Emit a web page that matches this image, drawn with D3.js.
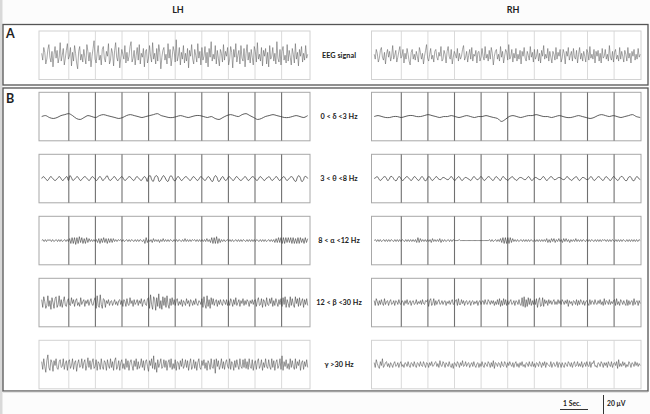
<!DOCTYPE html>
<html><head><meta charset="utf-8">
<script src="https://cdn.jsdelivr.net/npm/d3@7"></script>
<style>
html,body{margin:0;padding:0;background:#fcfcfc;}
svg{display:block;}
text{font-family:Lato,"Open Sans","DejaVu Sans",sans-serif;font-weight:bold;fill:#222;}
</style></head>
<body>
<svg id="c" width="650" height="414"></svg>
<script>
// ---------- DATA ----------
const hemispheres = ["LH", "RH"];
const panelLetters = ["A", "B"];
const bandLabels = ["EEG signal", "0 < δ <3 Hz", "3 < θ <8 Hz", "8 < α <12 Hz", "12 < β <30 Hz", "γ >30 Hz"];
const secondTicks = [1,2,3,4,5,6,7,8,9];
const durationSec = 10;
const scaleBarLabels = ["1 Sec.", "20 μV"];

const eegLH = [2,-5,8,3,-9,-4,6,11,-2,-7,4,-12,1,9,-3,5,-8,-2,13,-6,
0,7,-10,-3,5,12,-4,-1,8,-11,3,-6,10,2,-8,-14,4,9,-5,1,
-7,6,-2,-9,11,4,-6,3,-12,-1,7,15,-4,-8,2,10,-5,0,-10,6,
9,-3,-7,4,-1,12,-9,-5,7,2,-11,5,13,-2,-6,8,-13,-3,6,1,
-4,10,-8,3,-6,-1,9,14,-7,-3,5,-10,0,8,-5,11,-9,2,-2,7,
-12,4,6,-8,-3,10,-1,-7,13,-4,2,-9,7,-6,11,3,-14,-2,5,8,
-5,1,-9,12,-3,6,-11,-2,9,4,-7,16,-6,-1,8,-10,3,-4,10,-8,
2,-6,7,-13,5,-1,11,-4,-9,6,0,-7,12,-3,4,-10,8,-5,-1,9,
-8,3,-12,7,-2,14,-6,1,-4,10,-9,5,-3,-11,6,2,-7,11,-5,4,
-1,8,-10,-4,9,3,-13,6,-2,12,-7,0,5,-9,10,-3,-6,7,-12,2,
11,-5,3,-8,6,-2,-10,9,4,-7,13,-4,1,-6,8,-11,5,-1,7,-9,
3,-12,10,-4,-1,8,-6,2,-9,14,-3,-7,6,-10,4,9,-5,0,-8,11,
-6,5,-2,-10,7,1,-8,12,-4,3,-11,6,-1,9,-7,2,-5,10,-3,1];
const eegRH = [1,-4,6,2,-7,-3,5,8,-2,-5,3,-9,1,6,-2,4,-6,-1,10,-4,
0,5,-7,-2,4,9,-3,-1,6,-8,2,-4,7,1,-6,-10,3,6,-4,1,
-5,4,-1,-7,8,3,-4,2,-9,-1,5,11,-3,-6,1,7,-4,0,-7,4,
6,-2,-5,3,-1,9,-6,-4,5,1,-8,4,9,-1,-4,6,-9,-2,4,1,
-3,7,-6,2,-4,-1,6,10,-5,-2,4,-7,0,6,-4,8,-6,1,-1,5,
-8,3,4,-6,-2,7,-1,-5,9,-3,1,-6,5,-4,8,2,-10,-1,4,6,
-4,1,-6,9,-2,4,-8,-1,6,3,-5,11,-4,-1,6,-7,2,-3,7,-6,
1,-4,5,-9,4,-1,8,-3,-6,4,0,-5,9,-2,3,-7,6,-4,-1,6,
-6,2,-8,5,-1,10,-4,1,-3,7,-6,4,-2,-8,4,1,-5,8,-4,3,
-1,6,-7,-3,6,2,-9,4,-1,8,-5,0,4,-6,7,-2,-4,5,-8,1,
8,-4,2,-6,4,-1,-7,6,3,-5,9,-3,1,-4,6,-8,4,-1,5,-6,
2,-8,7,-3,-1,6,-4,1,-6,10,-2,-5,4,-7,3,6,-4,0,-6,8,
-4,4,-1,-7,5,1,-6,8,-3,2,-8,4,-1,6,-5,1,-4,7,-2,1];

const deltaLH = [0,1,-1,-2,-1,1,2,3,1,-2,-3,-1,1,0,-1,1,2,1,0,-1,-2,-1,1,2,1,0,-1,0,1,2,3,1,0,-1,-1,0,1,0,-1,0,1,1,0,-1,0,-2,-3,-1,1,2,1,0,2,3,1,-1,-3,-2,0,1,2,1,0,-1,-1,0,1,0,-1,1];
const deltaRH = [0,1,0,-1,-1,0,0,-1,0,1,1,0,0,1,2,1,0,-1,0,0,1,0,-1,0,1,0,-1,0,0,1,0,-1,-2,-5,-3,0,1,0,-1,0,1,1,2,1,0,0,-1,0,1,0,-1,-1,0,1,0,-1,-2,-1,1,2,1,0,1,0,-1,0,1,2,0,-1];

const thetaLH = [0,2,1,-1,-2,0,2,1,-1,-2,-1,1,2,0,-2,-1,1,2,
-2,3,1,-2,-1,1,2,0,-2,-1,1,2,1,-1,-2,0,2,1,
-1,-2,0,2,1,-2,-1,1,3,0,-2,-1,1,2,0,-2,-1,1,
2,0,-2,-1,1,2,1,-1,-2,0,2,1,-1,-2,0,2,1,-3,
2,3,-1,-3,1,3,2,-3,-2,1,3,1,-2,-3,1,3,1,-2,
-2,1,2,0,-2,-1,1,2,1,-1,-2,0,2,1,-1,-2,0,2,
1,-1,-2,0,2,1,-2,-3,1,3,1,-3,-2,1,2,-1,-2,0,
2,1,-1,-2,0,2,1,-1,-2,-1,1,2,0,-2,-1,1,2,1,
-1,-2,0,2,1,-1,-2,0,1,2,0,-2,-1,1,2,0,-2,-1,
1,2,0,-2,-1,1,2,1,-2,-3,1,3,1,-3,-2,2,2,0];
const thetaRH = [0,1,2,0,-2,-1,1,2,1,-2,-1,2,2,0,-2,-2,1,2,
0,-2,-1,1,2,1,-1,-2,0,2,1,-1,-2,0,2,1,-2,-2,
1,2,0,-2,-1,1,2,0,-1,-1,1,1,0,-1,-1,1,2,0,
-2,-1,1,2,0,-2,-1,1,1,0,-1,-2,0,2,1,-1,-1,1,
2,0,-2,-1,1,2,1,-1,-2,0,2,1,-1,-2,1,2,0,-1,
-2,0,1,2,0,-1,-2,0,1,1,0,-1,-1,1,2,0,-2,-1,
1,1,0,-1,-1,1,2,0,-2,-1,1,2,1,-1,-1,0,1,1,
0,-1,-1,1,2,0,-1,-2,0,1,2,0,-2,-1,1,1,0,-1,
-1,1,2,0,-2,-1,1,2,1,-1,-2,0,2,1,-1,-2,0,2,
1,-1,-2,0,2,2,0,-2,-2,1,2,1,-2,-2,1,2,0,-1];

const alphaLH = [0,1,-1,1,-1,1,0,1,-1,1,-1,0,1,-1,1,-1,1,-1,0,1,-1,1,
-1,2,-3,3,-3,3,-4,3,-3,4,-2,3,-3,2,-3,3,-2,2,-1,1,-1,1,
-1,1,-2,2,-3,2,-2,3,-2,2,-3,2,-2,2,-2,2,-1,1,-1,1,0,1,
-1,1,-1,0,1,-1,1,-1,1,0,-1,1,-1,1,-1,1,0,-1,1,-3,3,-2,
1,-1,1,-2,2,-1,1,-1,1,-2,1,-1,2,-1,1,-1,1,-1,1,0,-1,1,
-1,1,-1,1,0,-1,1,-1,2,-1,1,-1,1,-1,1,0,1,-1,1,-1,1,-1,
1,-1,1,-1,2,-1,1,-2,3,-3,3,-3,4,-3,2,-2,1,-1,1,-1,0,1,
-1,1,-1,1,-1,0,1,-1,1,-1,1,-1,1,0,-1,1,-1,1,-1,1,-1,1,
-1,1,0,-1,1,-1,1,-1,1,-1,0,1,-1,1,-1,1,-2,2,-2,3,-2,3,
-3,3,-3,3,-2,3,-2,3,-3,3,-3,2,-3,3,-3,3,-2,2,-3,3,-2,2];
const alphaRH = [0,1,-1,1,-1,1,-1,0,1,-1,1,-1,1,-1,1,0,-1,1,-1,1,-1,1,
-1,1,0,-1,1,-1,1,-1,1,-1,1,-1,1,-2,3,-2,2,-1,1,-1,1,-1,
1,-1,1,-2,2,-1,1,-1,1,-1,2,-2,1,-1,1,-1,0,1,-1,1,-1,1,
0,0,0,0,1,0,0,0,0,0,0,0,0,0,0,0,0,0,0,0,0,0,
0,0,0,0,0,0,0,1,-1,1,-1,0,1,-1,1,-1,2,-2,3,-3,3,-3,
3,-3,3,-2,2,-1,1,-1,1,-1,0,1,-1,1,-1,1,-1,1,-1,1,0,-1,
1,-1,1,-1,1,-1,1,-1,1,-1,2,-2,1,-2,2,-1,2,-2,1,-1,2,-1,
1,-2,2,-1,2,-1,1,-2,1,-1,1,-1,2,-1,1,-1,1,-1,1,0,-1,1,
-1,1,-1,1,0,-1,1,-1,1,-1,1,-1,1,0,1,-1,1,-1,1,-1,1,0,
-1,1,-1,1,-1,1,-1,1,0,-1,1,-1,1,-1,1,-1,1,-1,1,-1,1,0];

const betaLH = [3,-5,6,1,-6,-3,7,-4,2,-7,5,0,-6,4,6,-5,-2,7,-4,3,-5,1,6,-3,-4,2,
4,-2,-3,5,-1,3,-4,2,4,-3,0,-4,5,-2,1,3,-4,2,-1,3,-3,1,4,-2,-3,2,
5,-6,7,-3,-5,8,-2,-6,4,3,-5,2,-1,3,-3,1,2,-3,0,3,-2,1,-3,2,3,-2,
2,-4,3,1,-4,4,-2,-3,5,-1,2,-4,3,-2,0,3,-3,2,-1,4,-4,1,3,-2,-3,4,
5,-6,8,-2,-7,6,3,-8,5,-4,9,-6,2,-7,6,-3,5,-5,7,-2,-6,4,-3,5,-2,3,
-3,2,4,-3,1,-2,3,-4,2,0,-3,4,-1,2,-4,3,1,-3,2,-2,4,-1,-3,2,1,-2,
4,-5,6,-2,-6,7,-4,3,-6,5,-2,4,-3,1,3,-4,2,-2,3,-1,-3,3,1,-2,3,-3,
2,-3,4,1,-4,3,-2,5,-3,0,3,-4,2,-1,4,-3,2,-2,3,1,-4,2,-1,3,-2,2,
3,-4,2,5,-3,-2,4,-5,3,1,-4,5,-2,-3,4,-1,5,-4,2,-3,4,0,-4,3,-2,4,
-4,5,-2,6,-5,3,-1,-5,6,-3,4,-2,-5,6,-1,4,-4,5,-3,1,4,-5,3,-2,4,-3];
const betaRH = [2,-3,4,1,-3,2,-2,3,-1,-3,4,-2,1,2,-3,1,3,-2,-1,2,-3,2,1,-2,3,-1,
-2,2,1,-3,2,-1,3,-2,0,2,-3,1,2,-2,-1,3,-2,1,-1,2,-2,3,-1,-2,2,1,
3,-4,2,4,-3,-1,4,-3,2,-2,1,3,-2,-1,2,-2,1,2,-3,1,-1,2,-2,1,3,-2,
-1,2,3,-3,4,-2,-2,3,-1,2,-3,1,2,-2,0,2,-3,1,2,-2,1,-1,2,-3,1,2,
-2,1,2,-2,3,-1,-2,3,1,-2,2,-1,2,-3,1,-2,3,-2,4,-4,2,-3,4,-2,3,-3,
2,-2,1,3,-2,-1,2,-3,2,1,-2,3,-2,-3,5,-4,6,-5,3,-4,5,-2,4,-3,2,-2,
3,-2,4,-5,2,5,-4,-3,5,-4,3,-1,2,-3,3,-1,2,-2,1,3,-2,1,-2,3,-1,2,
-2,3,1,-2,2,-1,3,-4,2,-1,1,-3,2,1,-2,3,-3,2,-2,3,1,-2,2,-3,1,2,
-1,-3,3,-2,2,1,-2,3,-1,-2,2,-1,3,-2,1,-3,4,-2,2,1,-2,3,-2,1,-1,2,
3,-3,4,-2,1,-3,3,1,-2,2,-1,-3,3,-3,2,-2,1,2,-3,4,-2,1,2,-3,2,-1];

const gammaLH = [3,-5,6,-2,-8,4,10,-3,-6,5,2,-7,4,-1,6,-4,-5,3,5,-3,
-2,6,-5,1,4,-6,3,5,-4,-1,6,-5,2,4,-7,1,5,-3,-2,6,
-4,2,5,-6,-1,7,-3,4,-5,2,6,-4,-2,5,-6,3,1,-5,6,-2,
-5,4,2,-6,5,-1,-4,6,-3,3,-6,4,7,-5,-2,4,-6,2,5,-4,
1,-5,6,-3,4,-6,2,5,-1,-6,4,-2,6,-5,3,-4,-1,6,-3,4,
-6,3,5,-2,-7,4,-1,6,-4,9,-5,2,-8,5,-3,1,6,-4,-2,5,
-3,4,-6,2,5,-3,6,-5,1,-4,5,-6,3,2,-5,4,-2,6,-4,-1,
5,-3,4,-6,1,6,-5,-2,5,-4,3,-6,2,6,-3,-5,4,-1,5,-4,
2,-6,4,1,-5,6,-3,-4,5,-9,6,-2,4,-5,-1,6,-4,3,-5,2,
5,-2,-4,6,-5,3,1,-6,4,-3,5,-1,-5,6,-2,-4,5,-3,6,-4,
3,-5,6,-2,-4,5,-6,1,4,-5,3,6,-4,-1,5,-6,2,-3,6,-2,
-4,5,-2,-5,6,-3,4,-6,2,5,-4,-1,6,-5,9,-6,3,-2,5,-4,
1,-5,6,-3,4,-2,-5,6,-4,3,-1,5,-6,2,4,-5,3,-2,5,-3];
const gammaRH = [2,-3,5,1,-2,-4,3,-1,6,-3,-1,2,3,-2,1,-3,2,0,-3,1,
3,-2,-1,2,-3,1,3,-2,0,-3,2,1,-2,3,-1,-3,2,1,-2,3,
-1,-3,2,1,-2,3,-1,-2,3,0,-3,2,1,-3,2,-1,3,-2,-1,2,
3,-2,1,-3,4,-1,-2,3,1,-3,2,0,-2,3,-1,-3,1,-4,2,1,
-2,3,1,-3,2,-1,4,-2,-1,3,-2,1,2,-3,0,2,-2,3,-1,-3,
1,2,-3,1,-2,3,-1,-3,2,0,-2,3,1,-3,2,-2,4,-4,2,1,
-2,2,1,-3,3,-1,-2,3,1,-3,2,-1,3,0,-2,2,-3,1,3,-2,
1,-3,2,-1,3,-2,0,-3,2,1,-2,3,-1,-2,3,-2,1,-3,2,1,
-2,3,1,-3,2,-1,3,-3,2,0,-1,-2,3,-3,1,2,-2,-1,3,-3,
2,1,-3,2,-1,-3,2,0,-2,3,1,-2,2,-3,1,3,-2,-1,3,-2,
1,-2,3,-3,0,2,-2,3,-1,-2,3,-3,2,1,4,-2,-1,-3,2,1,
-2,3,1,-3,2,-1,2,-3,3,0,-2,3,-3,1,2,-1,3,-4,5,-2,
1,-2,3,-1,2,-3,0,-2,3,1,-3,2,1,-2,3,-1,2,-2,1,-1];

// ---------- LAYOUT ----------
const svg = d3.select("#c");
const rows = [
  {label: bandLabels[0], lh: eegLH,   rh: eegRH,   y: 31,    light: true,  curve: d3.curveLinear,     col:"#606060", sw:0.55},
  {label: bandLabels[1], lh: deltaLH, rh: deltaRH, y: 92.3,  light: false, curve: d3.curveCatmullRom, col:"#333", sw:0.8},
  {label: bandLabels[2], lh: thetaLH, rh: thetaRH, y: 154.3, light: false, curve: d3.curveCatmullRom, col:"#333", sw:0.75},
  {label: bandLabels[3], lh: alphaLH, rh: alphaRH, y: 216.3, light: false, curve: d3.curveLinear,     col:"#3a3a3a", sw:0.6},
  {label: bandLabels[4], lh: betaLH,  rh: betaRH,  y: 278.3, light: false, curve: d3.curveLinear,     col:"#3a3a3a", sw:0.55},
  {label: bandLabels[5], lh: gammaLH, rh: gammaRH, y: 340.3, light: true,  curve: d3.curveLinear,     col:"#4a4a4a", sw:0.55}
];
const panelH = 48.5, panelW = 271;
const panelX = [39, 371.5];

// frames
svg.append("rect").attr("x",0).attr("y",0).attr("width",2.5).attr("height",414).attr("fill","#d9d9d9");
svg.append("rect").attr("x",3).attr("y",24.5).attr("width",645).attr("height",60.5)
  .attr("fill","#fff").attr("stroke","#555").attr("stroke-width",1.3);
svg.append("rect").attr("x",3).attr("y",88).attr("width",645).attr("height",303)
  .attr("fill","#fff").attr("stroke","#555").attr("stroke-width",1.3);
svg.append("line").attr("x1",3).attr("x2",648).attr("y1",391.8).attr("y2",391.8).attr("stroke","#aaa").attr("stroke-width",1);

// titles
const hemiCenters = [178, 513];
hemispheres.forEach((h,i)=>{
  svg.append("text").attr("x",hemiCenters[i]).attr("y",13).attr("text-anchor","middle")
    .attr("font-size",9).text(h);
});
svg.append("text").attr("x",6).attr("y",38).attr("font-size",12.5).attr("font-family","Liberation Sans, Arial, sans-serif").text(panelLetters[0]);
svg.append("text").attr("x",6).attr("y",103).attr("font-size",12.5).attr("font-family","Liberation Sans, Arial, sans-serif").text(panelLetters[1]);

const y = d3.scaleLinear().domain([-25,25]);

rows.forEach(r=>{
  [r.lh, r.rh].forEach((vals, side)=>{
    const px = panelX[side];
    const x = d3.scaleLinear().domain([0,durationSec]).range([px+2.7, px+268.7]);
    const yy = y.copy().range([r.y+panelH, r.y]);
    const g = svg.append("g");
    g.append("rect").attr("x",px).attr("y",r.y).attr("width",panelW-(side?1.5:0)).attr("height",panelH)
      .attr("fill","#fff").style("stroke", r.light ? "#d2d2d2" : "#a8a8a8").attr("stroke-width",1);
    const ax = g.append("g").attr("transform",`translate(0,${r.y+panelH})`)
      .call(d3.axisBottom(x).tickValues(secondTicks).tickSize(-panelH).tickFormat(""));
    ax.select(".domain").remove();
    ax.selectAll(".tick line").style("stroke", r.light ? "#d6d6d6" : "#707070").style("stroke-width", r.light?0.9:1.1);
    const n = vals.length;
    const line = d3.line().x((d,i)=>x(i*durationSec/(n-1))).y(d=>yy(d)).curve(r.curve);
    g.append("path").datum(vals).attr("d",line).attr("fill","none")
      .attr("stroke",r.col).attr("stroke-width", r.sw).attr("stroke-linejoin","round");
  });
  svg.append("text").attr("x",339).attr("y",r.y+panelH/2+2.5).attr("text-anchor","middle")
    .attr("font-size",7.3).text(r.label);
});

// scale bars
svg.append("text").attr("x",572).attr("y",406).attr("text-anchor","middle").attr("font-size",6.8).text(scaleBarLabels[0]);
svg.append("line").attr("x1",560).attr("x2",588).attr("y1",409.5).attr("y2",409.5).attr("stroke","#333").attr("stroke-width",1);
svg.append("line").attr("x1",603.5).attr("x2",603.5).attr("y1",395).attr("y2",414).attr("stroke","#333").attr("stroke-width",1);
svg.append("text").attr("x",607).attr("y",406).attr("font-size",6.8).attr("font-weight","normal").text(scaleBarLabels[1]);
</script>
</body></html>
